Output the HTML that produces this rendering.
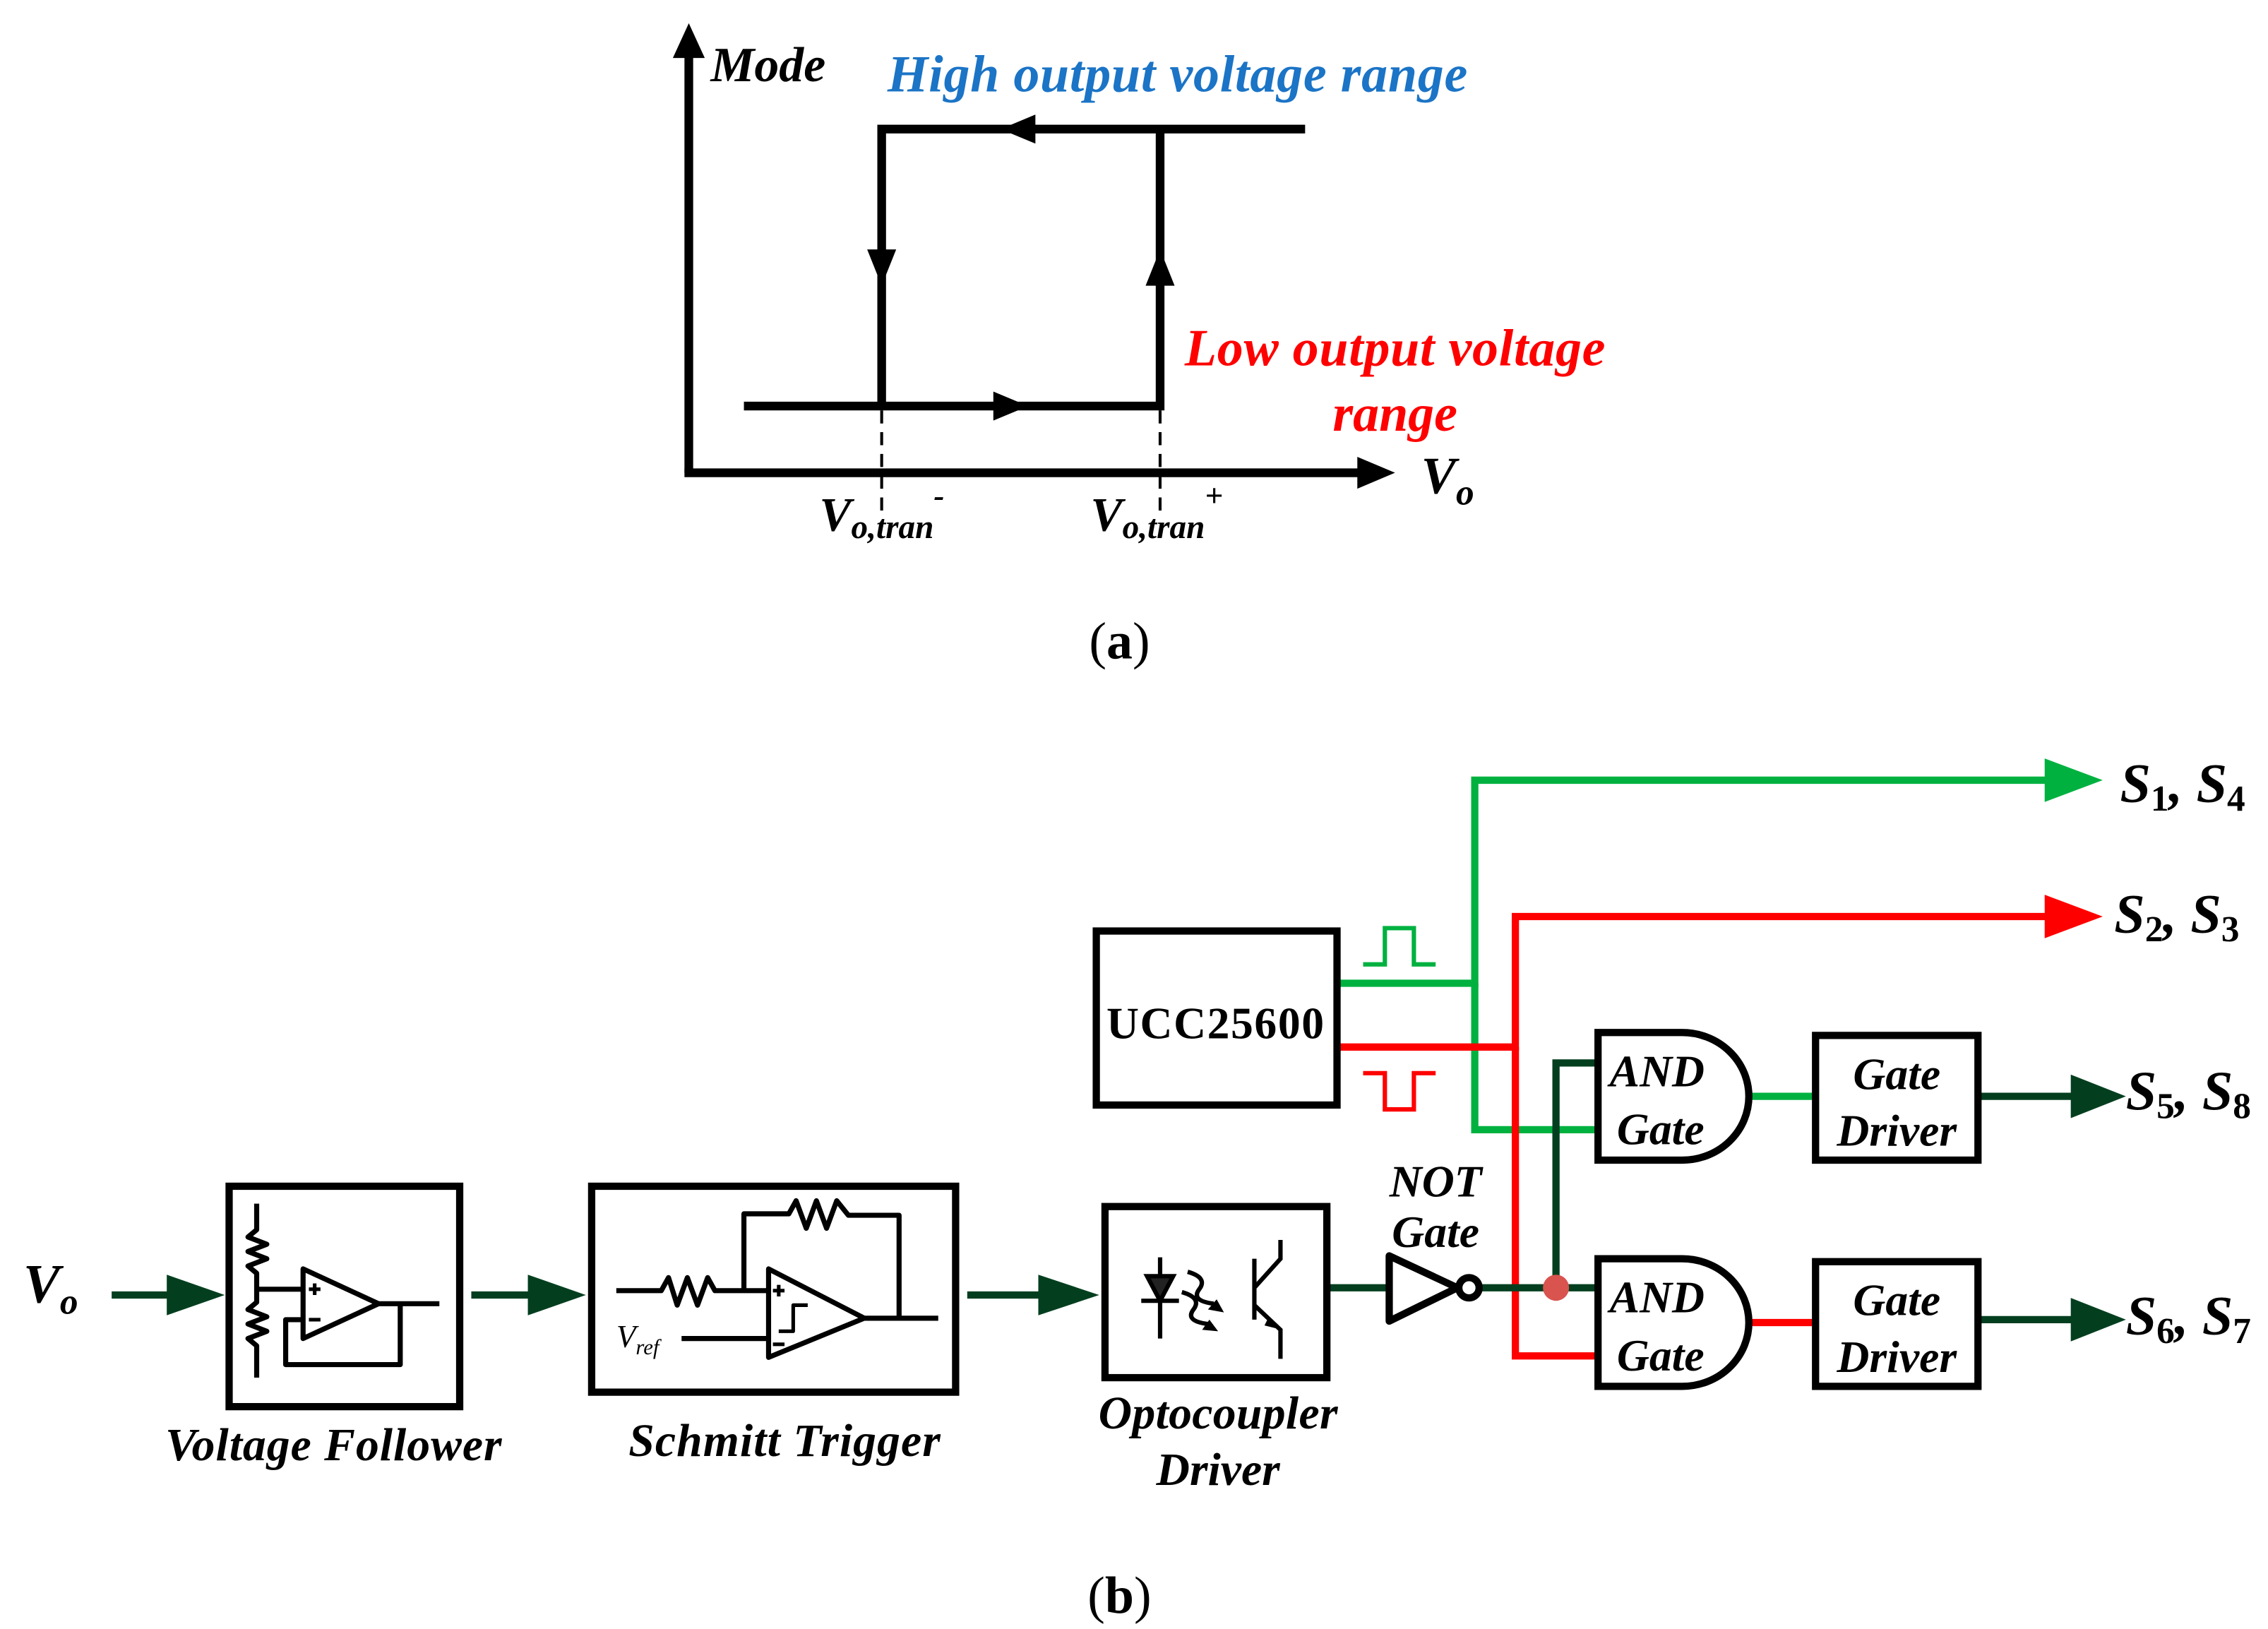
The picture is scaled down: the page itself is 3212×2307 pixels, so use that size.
<!DOCTYPE html>
<html><head><meta charset="utf-8"><style>
html,body{margin:0;padding:0;background:#fff}
svg{display:block}
text{font-family:"Liberation Serif",serif;font-weight:bold;font-style:italic}
.n{font-style:normal}
</style></head><body>
<svg width="3212" height="2307" viewBox="0 0 1564 1123.3" xmlns="http://www.w3.org/2000/svg">
<rect width="1564" height="1124" fill="#fff"/>
<!-- (a) -->
<g stroke="#000" stroke-width="6" fill="none">
<line x1="475" y1="326" x2="475" y2="36"/>
<line x1="472" y1="326" x2="940" y2="326"/>
<polyline points="900,89 608,89 608,280"/>
<polyline points="513,280 800,280 800,89"/>
</g>
<polygon points="475,16 464,40 486,40" fill="#000"/>
<polygon points="962,326 936,315 936,337" fill="#000"/>
<polygon points="690,89 714,79 714,99" fill="#000"/>
<polygon points="608,197 598,172 618,172" fill="#000"/>
<polygon points="800,172 790,197 810,197" fill="#000"/>
<polygon points="709,280 685,270 685,290" fill="#000"/>
<g stroke="#000" stroke-width="2" stroke-dasharray="9,6">
<line x1="608" y1="283" x2="608" y2="352"/>
<line x1="800" y1="283" x2="800" y2="352"/>
</g>
<text x="490" y="56" font-size="34">Mode</text>
<text x="612" y="63" font-size="36" fill="#1b74c6" textLength="400">High output voltage range</text>
<text x="817" y="252" font-size="36" fill="#ff0000" textLength="290">Low output voltage</text>
<text x="962" y="297" font-size="36" fill="#ff0000" text-anchor="middle">range</text>
<text x="980" y="340" font-size="36">V<tspan font-size="25" dy="8">o</tspan></text>
<text x="565" y="366" font-size="33">V<tspan font-size="23" dy="5">o,tran</tspan><tspan font-size="22" dy="-22">-</tspan></text>
<text x="752" y="366" font-size="33">V<tspan font-size="23" dy="5">o,tran</tspan><tspan font-size="22" dy="-22">+</tspan></text>
<text x="772" y="454" font-size="36" class="n" style="font-weight:normal" text-anchor="middle">(<tspan style="font-weight:bold">a</tspan>)</text>

<!-- (b) wires -->
<g fill="none" stroke-width="5">
<polyline stroke="#00b140" points="922,678 1017,678 1017,538 1415,538"/>
<polyline stroke="#00b140" points="1017,678 1017,779 1102,779"/>
<polyline stroke="#ff0000" points="922,722 1045,722 1045,632 1415,632"/>
<polyline stroke="#ff0000" points="1045,722 1045,935 1102,935"/>
<polyline stroke="#033f1f" points="1022,888 1102,888"/>
<polyline stroke="#033f1f" points="1073,888 1073,733 1102,733"/>
<line stroke="#00b140" x1="1205" y1="756" x2="1252" y2="756"/>
<line stroke="#ff0000" x1="1205" y1="912" x2="1252" y2="912"/>
<line stroke="#033f1f" x1="1364" y1="756" x2="1435" y2="756"/>
<line stroke="#033f1f" x1="1364" y1="910" x2="1435" y2="910"/>
<line stroke="#033f1f" x1="915" y1="888" x2="958" y2="888"/>
<line stroke="#033f1f" x1="77" y1="893" x2="120" y2="893"/>
<line stroke="#033f1f" x1="325" y1="893" x2="368" y2="893"/>
<line stroke="#033f1f" x1="667" y1="893" x2="720" y2="893"/>
</g>
<polygon points="1450,538 1410,523 1410,553" fill="#00b140"/>
<polygon points="1450,632 1410,617 1410,647" fill="#ff0000"/>
<polygon points="1466,756 1428,741 1428,771" fill="#033f1f"/>
<polygon points="1466,910 1428,895 1428,925" fill="#033f1f"/>
<polygon points="155,893 115,879 115,907" fill="#033f1f"/>
<polygon points="404,893 364,879 364,907" fill="#033f1f"/>
<polygon points="758,893 716,879 716,907" fill="#033f1f"/>
<circle cx="1073" cy="888" r="9" fill="#d9534f"/>
<polyline fill="none" stroke="#00b140" stroke-width="3" points="940,665 955,665 955,640 975,640 975,665 990,665"/>
<polyline fill="none" stroke="#ff0000" stroke-width="3" points="940,740 955,740 955,765 975,765 975,740 990,740"/>

<!-- UCC -->
<rect x="756" y="642" width="166" height="120" fill="#fff" stroke="#000" stroke-width="5"/>
<text x="838" y="716" font-size="31" class="n" text-anchor="middle" textLength="150">UCC25600</text>

<!-- AND gates -->
<g stroke="#000" stroke-width="5" fill="#fff">
<path d="M1102,712 L1160,712 A46,44 0 0 1 1160,800 L1102,800 Z"/>
<path d="M1102,868 L1160,868 A46,44 0 0 1 1160,956 L1102,956 Z"/>
<rect x="1252" y="714" width="112" height="86"/>
<rect x="1252" y="870" width="112" height="86"/>
</g>
<g font-size="31">
<text x="1110" y="749">AND</text><text x="1115" y="789">Gate</text>
<text x="1110" y="905">AND</text><text x="1115" y="945">Gate</text>
<text x="1308" y="751" text-anchor="middle">Gate</text><text x="1308" y="790" text-anchor="middle">Driver</text>
<text x="1308" y="907" text-anchor="middle">Gate</text><text x="1308" y="946" text-anchor="middle">Driver</text>
</g>
<g font-size="38">
<text x="1462" y="553">S<tspan font-size="25" class="n" dy="6">1</tspan><tspan dy="-6">, S</tspan><tspan font-size="25" class="n" dy="6">4</tspan></text>
<text x="1458" y="643">S<tspan font-size="25" class="n" dy="6">2</tspan><tspan dy="-6">, S</tspan><tspan font-size="25" class="n" dy="6">3</tspan></text>
<text x="1466" y="765">S<tspan font-size="25" class="n" dy="6">5</tspan><tspan dy="-6">, S</tspan><tspan font-size="25" class="n" dy="6">8</tspan></text>
<text x="1466" y="920">S<tspan font-size="25" class="n" dy="6">6</tspan><tspan dy="-6">, S</tspan><tspan font-size="25" class="n" dy="6">7</tspan></text>
<text x="16" y="898">V<tspan font-size="25" dy="8">o</tspan></text>
</g>

<!-- NOT gate -->
<g stroke="#000" stroke-width="5" fill="#fff">
<polygon points="958,866 1005,888 958,911" stroke-linejoin="round"/>
<circle cx="1013" cy="888" r="7"/>
</g>
<text x="990" y="825" font-size="31" text-anchor="middle">NOT</text>
<text x="990" y="860" font-size="31" text-anchor="middle">Gate</text>

<!-- Voltage follower -->
<rect x="158" y="818" width="159" height="152" fill="none" stroke="#000" stroke-width="5"/>
<g stroke="#000" stroke-width="3.5" fill="none" stroke-linejoin="round">
<polyline points="177,830 177,848 171,853 184,858 171,863 184,868 171,873 177,878 177,898 171,903 184,908 171,913 184,918 171,923 177,928 177,950"/>
<line x1="177" y1="889" x2="209" y2="889"/>
<polygon points="209,875 261,899 209,923"/>
<line x1="261" y1="899" x2="303" y2="899"/>
<polyline points="276,899 276,941 197,941 197,910 209,910"/>
<line x1="213" y1="889" x2="221" y2="889" stroke-width="2.5"/><line x1="217" y1="885" x2="217" y2="893" stroke-width="2.5"/>
<line x1="213" y1="910" x2="221" y2="910" stroke-width="2.5"/>
</g>
<text x="230" y="1007" font-size="32" text-anchor="middle" textLength="232">Voltage Follower</text>

<!-- Schmitt trigger -->
<rect x="408" y="818" width="251" height="142" fill="none" stroke="#000" stroke-width="5"/>
<g stroke="#000" stroke-width="3.5" fill="none" stroke-linejoin="round">
<polyline points="425,890 456,890 461,881 467,900 474,881 481,900 488,881 493,890 530,890"/>
<polyline points="513,890 513,837 544,837 549,828 556,847 563,828 570,847 577,828 585,838 620,838 620,909"/>
<polygon points="530,875 596,909 530,936"/>
<line x1="596" y1="909" x2="647" y2="909"/>
<line x1="470" y1="923" x2="530" y2="923"/>
<polyline points="537,918 547,918 547,900 557,900" stroke-width="2.5"/>
<line x1="533" y1="890" x2="541" y2="890" stroke-width="2.5"/><line x1="537" y1="886" x2="537" y2="894" stroke-width="2.5"/>
<line x1="533" y1="927" x2="541" y2="927" stroke-width="2.5"/>
</g>
<text x="425" y="929" font-size="22" style="font-weight:normal">V<tspan font-size="15" dy="5">ref</tspan></text>
<text x="541" y="1004" font-size="32" text-anchor="middle" textLength="215">Schmitt Trigger</text>

<!-- Optocoupler -->
<rect x="762" y="832" width="153" height="118" fill="none" stroke="#000" stroke-width="5"/>
<g stroke="#000" stroke-width="3" fill="none">
<line x1="800" y1="867" x2="800" y2="923"/>
<line x1="787" y1="897" x2="813" y2="897"/>
<polygon points="791,880 809,880 800,897" fill="#222"/>
<path d="M819,877 q14,4 8,12 q-6,8 10,10"/>
<path d="M815,891 q14,4 8,12 q-6,8 10,10"/>
<line x1="865" y1="868" x2="865" y2="910"/>
<polyline points="865,888 883,868 883,855"/>
<polyline points="865,900 883,917 883,937"/>
</g>
<polygon points="839,896 833,903 844,905" fill="#000"/>
<polygon points="834,910 829,917 840,918" fill="#000"/>
<polygon points="884,917 875,908 872,914" fill="#000"/>
<text x="840" y="985" font-size="32" text-anchor="middle" textLength="165">Optocoupler</text>
<text x="840" y="1024" font-size="32" text-anchor="middle">Driver</text>

<text x="772" y="1112" font-size="36" class="n" style="font-weight:normal" text-anchor="middle">(<tspan style="font-weight:bold">b</tspan>)</text>
</svg>
</body></html>
